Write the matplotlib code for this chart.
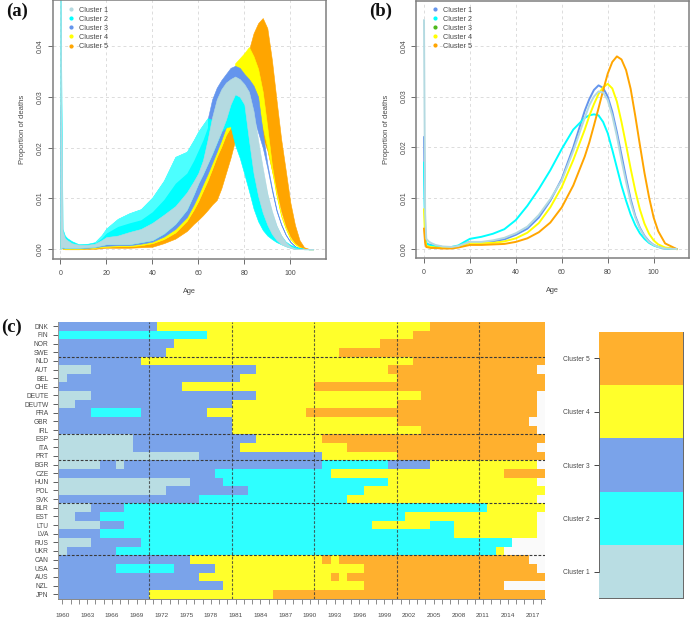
import numpy as np
import matplotlib
matplotlib.use('Agg')
import matplotlib.pyplot as plt
from matplotlib.colors import ListedColormap

plt.rcParams['font.family'] = ['Liberation Sans', 'DejaVu Sans']

W, H = 690.0, 617.0
LIGHT, CYAN, BLUE, YELLOW, ORANGE = '#B4DAE1', '#00FFFF', '#6495ED', '#FFFF00', '#FFA500'
GREEN = '#4DB81A'
TXT = '#4A4A4A'

# panel (a): envelope of each cluster's curves
ages = [0, 0.5, 1, 2, 3, 5, 8, 12, 15, 18, 20, 25, 30, 35, 40, 45, 50, 55, 58, 60, 62, 64, 66, 68, 70,
        72, 74, 76, 78, 80, 82, 84, 86, 88, 90, 92, 94, 96, 98, 100, 102, 104, 106, 108, 110]
orange_low = [.0008, .0003, .0001, 0, 0, 0, 0, .0001, .0001, .0002, .0003, .0003, .0003, .0004, .0005, .0012, .0021,
              .0036, .005, .0058, .0067, .0077, .0088, .0097, .012, .015, .018, .0215, .024, .026, .0265, .026,
              .0245, .022, .0195, .0155, .0115, .0075, .0045, .0025, .0012, .0005, .0002, 0, 0]
orange_high = [.004, .0018, .0007, .0003, .0003, .0002, .0002, .0002, .0003, .0004, .0005, .0006, .0006, .0008, .0012,
               .002, .0033, .0056, .0078, .0095, .0115, .0135, .0158, .0182, .0202, .0225, .024, .027, .0315, .0358,
               .0392, .0425, .0445, .0455, .0435, .0372, .0293, .0217, .0155, .0092, .0048, .0018, .0004, .0001, 0]
yellow_low = [.0004, .0002, .0002, .0001, .0001, .0001, .0001, .0002, .0003, .0004, .0005, .0006, .0006, .0008, .0012,
              .002, .0033, .0056, .0078, .0095, .0115, .0135, .0158, .0182, .0202, .0225, .024, .027, .029, .029,
              .029, .029, .027, .024, .02, .0155, .0105, .0065, .004, .002, .001, .0004, .0001, 0, 0]
yellow_high = [.0055, .002, .001, .0005, .0004, .0003, .0003, .0003, .0004, .0006, .0007, .0008, .0008, .0011, .0015,
               .0025, .004, .0063, .0088, .0107, .0128, .0148, .017, .0192, .0215, .024, .0262, .0366, .0376, .0386,
               .0398, .038, .0355, .031, .024, .0165, .0108, .0068, .0042, .0022, .0011, .0004, .0001, 0, 0]
blue_low = [.0002, .0003, .0003, .0002, .0002, .0002, .0002, .0003, .0004, .0006, .0007, .0008, .0008, .0011, .0015,
            .0025, .004, .0063, .0088, .0107, .0128, .0148, .017, .0192, .0215, .024, .0262, .03, .03, .029,
            .028, .026, .023, .02, .016, .0115, .0075, .0048, .0028, .0014, .0006, .0002, .0001, 0, 0]
blue_high = [.028, .003, .0012, .0007, .0006, .0005, .0005, .0005, .0006, .0008, .001, .001, .001, .0014, .0018,
             .0031, .005, .0078, .0108, .013, .0148, .0255, .0295, .0318, .0333, .0345, .0357, .0361, .0357, .0345,
             .0335, .0322, .03, .023, .0168, .012, .0078, .005, .0029, .0015, .0006, .0002, .0001, 0, 0]
cyan_low = [.0001, .0003, .0004, .0003, .0003, .0003, .0003, .0004, .0005, .0008, .001, .001, .001, .0014, .0018,
            .0031, .005, .0078, .0108, .013, .0148, .0168, .0188, .021, .0232, .024, .0242, .0205, .018, .0148,
            .0115, .008, .0055, .0038, .0027, .002, .0014, .001, .0006, .0003, .0001, .0001, 0, 0, 0]
cyan_high = [.06, .03, .004, .0027, .0022, .0016, .001, .0011, .0014, .0028, .0041, .006, .0071, .0079, .0102,
             .0135, .0182, .0192, .0215, .0232, .0245, .0258, .0255, .0285, .031, .032, .033, .0335, .0325, .03,
             .028, .025, .02, .015, .0105, .007, .0045, .0027, .0015, .0009, .0005, .0003, .0001, 0, 0]
light_low = [.0001, .0003, .0004, .0003, .0003, .0003, .0003, .0004, .0005, .0008, .001, .001, .001, .0014, .0018,
             .0031, .005, .0078, .0108, .013, .0148, .0168, .0188, .021, .0232, .0255, .0285, .0305, .03, .0285,
             .0215, .015, .0105, .0072, .0048, .003, .0018, .001, .0006, .0003, .0001, .0001, 0, 0, 0]
light_high = [.06, .025, .0036, .0022, .0018, .0012, .0009, .0009, .0011, .0018, .0024, .0027, .0034, .004, .0052,
              .0068, .0085, .0112, .0134, .015, .0175, .0215, .026, .0295, .0315, .0328, .0335, .034, .0335, .0325,
              .031, .0272, .0214, .016, .011, .0075, .0047, .0028, .0014, .0006, .0002, .0001, 0, 0, 0]
# sparser upper part of the cyan lobe, where single curves leave white between them
sparse_ages = [15, 18, 20, 25, 30, 35, 40, 45, 50, 55, 58, 60, 62, 64]
sparse_low = [.0012, .0022, .0032, .0045, .0052, .0058, .0074, .0098, .013, .015, .0175, .0195, .0215, .024]
sparse_high = [.0014, .0028, .0041, .006, .0071, .0079, .0102, .0135, .0182, .0192, .0215, .0232, .0245, .0258]

# panel (b): mean curves
ages_b = [0, 0.5, 1, 2, 3, 5, 8, 12, 15, 18, 20, 25, 30, 35, 40, 45, 50, 55, 60, 65, 70, 72, 74, 76, 78, 80,
          82, 84, 86, 88, 90, 92, 94, 96, 98, 100, 102, 105, 110]
mean_blue = [.022, .004, .001, .0009, .0008, .0006, .0004, .0003, .0005, .0011, .0014, .0013, .0015, .0019, .0028,
             .004, .0062, .0095, .0138, .02, .0272, .0295, .0313, .0322, .0317, .03, .027, .023, .0185, .014,
             .0098, .0065, .0042, .0026, .0015, .0008, .0004, .0001, 0]
mean_cyan = [.017, .003, .0012, .0008, .0007, .0006, .0004, .0004, .0007, .0015, .002, .0024, .003, .0039, .0057,
             .0085, .0118, .0155, .0197, .0235, .0258, .0263, .0265, .0263, .025, .0228, .0195, .016, .0125, .0095,
             .0068, .0047, .0031, .002, .0012, .0007, .0004, .0001, 0]
mean_light = [.045, .007, .002, .0015, .0012, .0008, .0005, .0004, .0006, .0011, .0014, .0014, .0017, .0022, .0031,
              .0044, .0067, .0098, .0135, .0193, .0258, .0283, .03, .031, .0308, .0293, .0262, .0222, .0175, .0132,
              .0092, .0062, .004, .0025, .0014, .0008, .0004, .0001, 0]
mean_yellow = [.0078, .002, .0006, .0005, .0004, .0003, .0002, .0002, .0004, .0009, .0012, .0012, .0012, .0015, .0021,
               .0032, .0051, .0082, .0122, .0175, .0235, .0262, .0285, .0305, .0318, .0325, .0316, .029, .025, .0205,
               .0158, .0115, .0078, .005, .003, .0017, .0009, .0003, 0]
mean_orange = [.004, .0012, .0004, .0003, .0002, .0002, .0001, .0001, .0003, .0006, .0008, .0008, .0009, .001, .0014,
               .0021, .0033, .0052, .0082, .0125, .0182, .021, .0243, .0277, .0312, .0345, .0368, .0379, .0373, .0352,
               .0315, .0262, .0205, .015, .0102, .0062, .0035, .0011, 0]

# panel (c): for every country the runs of (cluster, first year after the run)
countries = ['DNK', 'FIN', 'NOR', 'SWE', 'NLD', 'AUT', 'BEL', 'CHE', 'DEUTE', 'DEUTW', 'FRA', 'GBR', 'IRL', 'ESP',
             'ITA', 'PRT', 'BGR', 'CZE', 'HUN', 'POL', 'SVK', 'BLR', 'EST', 'LTU', 'LVA', 'RUS', 'UKR', 'CAN', 'USA',
             'AUS', 'NZL', 'JPN']
runs = [
    [(3, 1972), (4, 2005), (5, 2019)],
    [(2, 1978), (4, 2003), (5, 2019)],
    [(3, 1974), (4, 1999), (5, 2019)],
    [(3, 1973), (4, 1994), (5, 2019)],
    [(3, 1970), (4, 2003), (5, 2019)],
    [(1, 1964), (3, 1984), (4, 2000), (5, 2018)],
    [(1, 1961), (3, 1982), (4, 2001), (5, 2019)],
    [(3, 1975), (4, 1991), (5, 2019)],
    [(1, 1964), (3, 1984), (4, 2004), (5, 2018)],
    [(1, 1962), (3, 1981), (4, 2001), (5, 2018)],
    [(3, 1964), (2, 1970), (3, 1978), (4, 1990), (5, 2018)],
    [(3, 1981), (4, 2001), (5, 2017)],
    [(3, 1981), (4, 2004), (5, 2018)],
    [(1, 1969), (3, 1984), (4, 1992), (5, 2019)],
    [(1, 1969), (3, 1982), (4, 1995), (5, 2018)],
    [(1, 1977), (3, 1992), (4, 2001), (5, 2019)],
    [(1, 1965), (3, 1967), (1, 1968), (3, 1992), (2, 2000), (3, 2005), (4, 2018)],
    [(3, 1979), (2, 1993), (4, 2014), (5, 2019)],
    [(1, 1976), (3, 1980), (2, 2000), (4, 2018)],
    [(1, 1973), (3, 1983), (2, 1997), (4, 2019)],
    [(3, 1977), (2, 1995), (4, 2018)],
    [(1, 1964), (3, 1968), (2, 2012), (4, 2019)],
    [(1, 1962), (3, 1965), (2, 2002), (4, 2018)],
    [(1, 1965), (3, 1968), (2, 1998), (4, 2005), (2, 2008), (4, 2018)],
    [(3, 1965), (2, 2008), (4, 2018)],
    [(1, 1964), (3, 1970), (2, 2015)],
    [(1, 1961), (3, 1967), (2, 2013), (4, 2014)],
    [(3, 1976), (4, 1992), (5, 1993), (4, 1994), (5, 2017)],
    [(3, 1967), (2, 1974), (3, 1979), (4, 1997), (5, 2018)],
    [(3, 1977), (4, 1993), (5, 1994), (4, 1995), (5, 2019)],
    [(3, 1980), (4, 1997), (5, 2014)],
    [(3, 1971), (4, 1986), (5, 2019)],
]
years = list(range(1960, 2019))
x_labels = list(range(1960, 2018, 3))
bar_labels = ['Cluster 1', 'Cluster 2', 'Cluster 3', 'Cluster 4', 'Cluster 5']
group_ends = [4, 13, 16, 21, 27]
decades = [1971, 1981, 1991, 2001, 2011]

heat_colors = ['#FAFAFA', '#B9DDE3', '#2EFFFF', '#7AA3EA', '#FFFF2B', '#FFB02E']
heat_cmap = ListedColormap(heat_colors)


def px_axes(fig, left, top, right, bottom):
    return fig.add_axes([left / W, 1 - bottom / H, (right - left) / W, (bottom - top) / H])


def style_curve_axes(ax, xlim, ylim):
    ax.set_xlim(xlim)
    ax.set_ylim(ylim)
    ax.grid(True, color='#DCDCDC', linestyle=(0, (3, 3)), linewidth=0.7)
    ax.set_axisbelow(True)
    for s in ax.spines.values():
        s.set_color('#7F7F7F')
        s.set_linewidth(1.1)
    ax.set_xticks([0, 20, 40, 60, 80, 100])
    ax.set_yticks([0, 0.01, 0.02, 0.03, 0.04])
    ax.set_yticklabels(['0.00', '0.01', '0.02', '0.03', '0.04'], rotation=90, va='center')
    ax.tick_params(colors='#555555', labelsize=5, length=3.4, width=0.6, pad=3, labelcolor=TXT)
    ax.tick_params(axis='x', pad=4.5)
    ax.set_xlabel('Age', fontsize=5.3, color=TXT, labelpad=8)
    ax.set_ylabel('Proportion of deaths', fontsize=5.5, color=TXT, labelpad=7.5)


def cluster_legend(ax, colors):
    for i, c in enumerate(colors):
        ax.plot([], [], linestyle='none', marker='o', markersize=2, color=c, label=bar_labels[i])
    ax.legend(loc='upper left', bbox_to_anchor=(0.042, 0.975), frameon=False, fontsize=5.2, labelspacing=0.27,
              handletextpad=0.1, labelcolor=TXT, borderpad=0, borderaxespad=0)


fig = plt.figure(figsize=(W / 100, H / 100), dpi=100)

# panel a
ax = px_axes(fig, 52.5, 0.5, 326, 258.7)
style_curve_axes(ax, (-3.39, 115.5), (-0.00185, 0.04895))
bands = [(orange_low, orange_high, ORANGE), (yellow_low, yellow_high, YELLOW), (blue_low, blue_high, BLUE),
         (cyan_low, cyan_high, CYAN)]
for low, high, c in bands:
    ax.fill_between(ages, low, high, color=c, linewidth=0.4)
ax.fill_between(sparse_ages, sparse_low, sparse_high, color='white', alpha=0.3, linewidth=0)
ax.fill_between(ages, light_low, light_high, color=LIGHT, linewidth=0.4)
cluster_legend(ax, [LIGHT, CYAN, BLUE, YELLOW, ORANGE])

# panel b
ax = px_axes(fig, 416.3, 0.5, 689, 258)
style_curve_axes(ax, (-3.35, 115.4), (-0.00177, 0.0489))
ax.plot(ages_b, mean_blue, color=BLUE, lw=1.4)
ax.plot(ages_b, mean_cyan, color=CYAN, lw=1.4)
ax.plot(ages_b, mean_yellow, color=YELLOW, lw=1.4)
ax.plot(ages_b, mean_orange, color=ORANGE, lw=1.4)
ax.plot(ages_b, mean_light, color=LIGHT, lw=1.4)
cluster_legend(ax, [BLUE, CYAN, GREEN, YELLOW, ORANGE])

# panel c
ax = px_axes(fig, 58.3, 322, 545, 598.5)
grid = np.zeros((len(countries), len(years)))
for r, row in enumerate(runs):
    start = years[0]
    for cluster, end in row:
        grid[r, start - years[0]:end - years[0]] = cluster
        start = end
edges_x = np.arange(years[0] - 0.5, years[-1] + 1)
edges_y = np.arange(len(countries) + 1)
ax.pcolormesh(edges_x, edges_y, grid, cmap=heat_cmap, vmin=-0.5, vmax=5.5)
ax.set_xlim(edges_x[0], edges_x[-1])
ax.set_ylim(len(countries), 0)
for y in group_ends:
    ax.axhline(y, color='#3A3A3A', linestyle=(0, (2.5, 1.5)), linewidth=0.8)
for d in decades:
    ax.axvline(d - 0.5, color='#3A3A3A', linestyle=(0, (2.5, 1.5)), linewidth=0.8, alpha=0.8)
for name in ['top', 'right']:
    ax.spines[name].set_visible(False)
ax.spines['left'].set_color('#999999')
ax.spines['bottom'].set_color('#888888')
ax.spines['left'].set_linewidth(0.7)
ax.spines['bottom'].set_linewidth(0.7)
ax.set_yticks(np.arange(len(countries)) + 0.5)
ax.set_yticklabels(countries)
ax.set_xticks(years, minor=True)
ax.set_xticks(x_labels)
ax.set_xticklabels(x_labels)
ax.tick_params(axis='y', labelsize=4.8, length=3.6, width=0.6, color='#444444', labelcolor=TXT, pad=3.5)
ax.tick_params(axis='x', which='both', length=3.4, width=0.6, color='#777777')
ax.tick_params(axis='x', labelsize=4.6, labelcolor=TXT, pad=7)

# colour key
ax = px_axes(fig, 599, 331.7, 683.3, 598.3)
key = np.arange(1, 6).reshape(-1, 1)
ax.pcolormesh([0, 1], np.arange(6), key, cmap=heat_cmap, vmin=-0.5, vmax=5.5)
ax.set_xticks([])
ax.set_yticks(np.arange(5) + 0.5)
ax.set_yticklabels(bar_labels)
ax.tick_params(axis='y', labelsize=4.8, length=3.6, width=0.7, color='#444444', labelcolor=TXT, pad=3)
ax.spines['top'].set_visible(False)
for name in ['left', 'right', 'bottom']:
    ax.spines[name].set_color('#666666')
    ax.spines[name].set_linewidth(0.7)
ax.spines['left'].set_bounds(0.5, 4.5)

for label, x, y in [('(a)', 6, 16), ('(b)', 369, 16), ('(c)', 1.5, 332)]:
    fig.text(x / W, 1 - y / H, label, fontsize=13.5, fontweight='bold', family=['Liberation Serif', 'DejaVu Serif'],
             color='#111111')

fig.savefig('out.png', dpi=100)
